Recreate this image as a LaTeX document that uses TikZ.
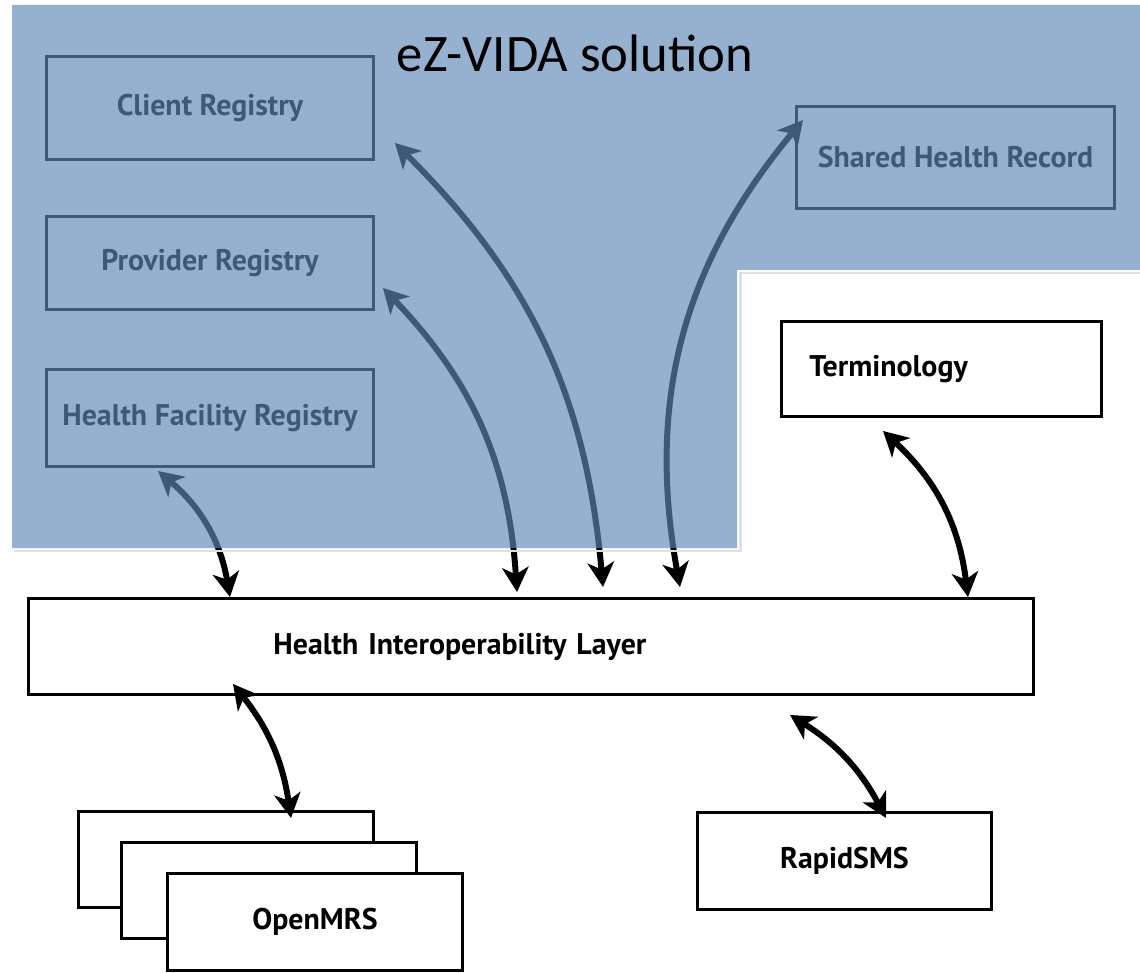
\documentclass[tikz,border=0pt]{standalone}
\usepackage{fontspec}
\setsansfont{PT Sans}
\newfontfamily\titlefont{Carlito}
\usetikzlibrary{positioning}
\usetikzlibrary{arrows.meta}
\definecolor{vidablue}{RGB}{94,136,182}
\tikzset{
    x=0.02cm, y=-0.02cm,
    box/.style={
        draw,
        line width=1.7pt,
        fill=white,
        anchor=north west,
        inner sep=0pt,
        font=\sffamily\bfseries\fontsize{17}{20}\selectfont
    },
    link/.style={
        draw,
        <->,>={Stealth[length=14pt,width=15pt,inset=4pt]},
        line width=3.4pt
    }
}

\begin{document}
\begin{tikzpicture}
    \useasboundingbox (0,0) rectangle (1140,973);

    % registries
    \node[box, minimum width=6.54cm, minimum height=2.06cm] (client) at (45,55) {Client Registry};
    \node[box, minimum width=6.54cm, minimum height=1.86cm] (provider) at (45,215) {Provider Registry};
    \node[box, minimum width=6.54cm, minimum height=1.94cm] (facility) at (45,368) {Health Facility Registry};
    \node[box, minimum width=6.36cm, minimum height=2.04cm] (shr) at (795,105) {Shared Health Record};
    \node[box, minimum height=1.9cm, text width=5.28cm, align=left, inner xsep=0.56cm] (term) at (780,320) {Terminology};

    % layer
    \node[box, minimum height=1.92cm, text width=10.3cm, align=left, inner xsep=4.9cm] (hil) at (27,597) {Health Interoperability Layer};

    % clients of the layer
    \node[box, minimum width=5.9cm, minimum height=1.92cm] (omrs3) at (77,810) {};
    \node[box, minimum width=5.9cm, minimum height=1.92cm] (omrs2) at (120,841) {};
    \node[box, minimum width=5.9cm, minimum height=1.94cm] (omrs) at (166,872) {OpenMRS};
    \node[box, minimum width=5.88cm, minimum height=1.94cm] (rapid) at (696,811) {RapidSMS};

    \draw[link] ([shift={(113,3)}]facility.south west) to[bend left=20] ([shift={(203,0)}]hil.north west);
    \draw[link] ([shift={(8,-23)}]provider.south east) to[bend left=20] ([shift={(490,-5)}]hil.north west);
    \draw[link] ([shift={(20,-18)}]client.south east) to[bend left=20] ([shift={(576,-10)}]hil.north west);
    \draw[link] ([shift={(8,15)}]shr.north west) to[bend right=25] ([shift={(653,-10)}]hil.north west);
    \draw[link] ([shift={(103,13)}]term.south west) to[bend left=20] ([shift={(941,0)}]hil.north west);
    \draw[link] ([shift={(206,-12)}]hil.south west) to[bend left=15] ([shift={(214,8)}]omrs3.north west);
    \draw[link] ([shift={(763,19)}]hil.south west) to[bend left=15] ([shift={(190,7)}]rapid.north west);

    % eZ-VIDA area
    \draw[black!12, line width=1.7pt] (14,551) -- (740,551) -- (740,273) -- (1140,273);
    \fill[vidablue, fill opacity=0.66] (12,5) -- (1140,5) -- (1140,270) -- (737,270) -- (737,548) -- (12,548) -- cycle;
    \node[font=\titlefont\fontsize{30}{35}\selectfont, anchor=base] (title) at (575,72) {eZ-VIDA solution};
\end{tikzpicture}
\end{document}
